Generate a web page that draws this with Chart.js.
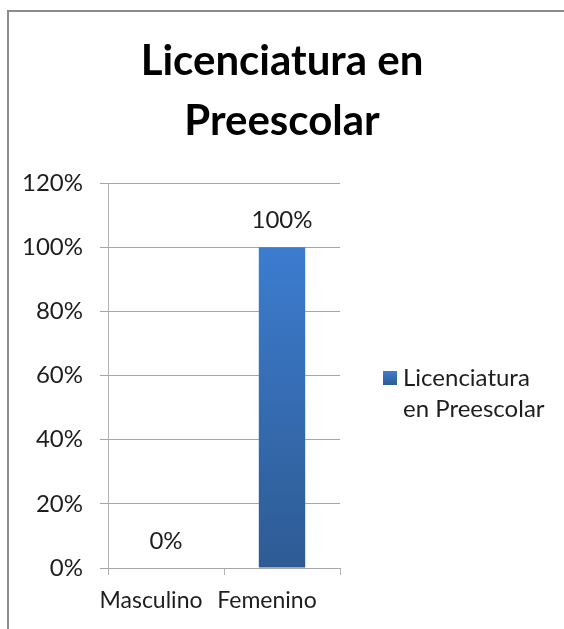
<!DOCTYPE html>
<html>
<head>
<meta charset="utf-8">
<script src="https://cdn.jsdelivr.net/npm/chart.js@4/dist/chart.umd.min.js"></script>
<style>
  html, body { margin: 0; padding: 0; background: #fff; overflow: hidden; }
  canvas { display: block; }
</style>
</head>
<body>
<canvas id="c" width="564" height="629"></canvas>
<script>
const titleLines = ['Licenciatura en', 'Preescolar'];
const categories = ['Masculino', 'Femenino'];
const seriesName = 'Licenciatura en Preescolar';
const legendLines = ['Licenciatura', 'en Preescolar'];
const values = [0, 100];
const yTicks = [0, 20, 40, 60, 80, 100, 120];

const FONT = 'Lato, "Noto Sans", sans-serif';
const TXT = '#1e1e1e';

function barGradient(ctx) {
  const chart = ctx.chart;
  if (!chart.chartArea) return '#3a78c8';
  const y = chart.scales.y;
  const g = chart.ctx.createLinearGradient(0, y.getPixelForValue(100), 0, y.getPixelForValue(0));
  g.addColorStop(0, '#3c7ccf');
  g.addColorStop(1, '#2e5b93');
  return g;
}

const frame = {
  id: 'frame',
  beforeDraw(chart) {
    const c = chart.ctx;
    c.save();
    c.fillStyle = '#ffffff';
    c.fillRect(0, 0, chart.width, chart.height);
    c.strokeStyle = '#8c8c8c';
    c.lineWidth = 2;
    c.beginPath();
    c.moveTo(8, chart.height + 2);
    c.lineTo(8, 11);
    c.lineTo(chart.width + 2, 11);
    c.stroke();
    c.restore();
  }
};

const dataLabels = {
  id: 'dataLabels',
  afterDatasetsDraw(chart) {
    const c = chart.ctx;
    const meta = chart.getDatasetMeta(0);
    c.save();
    c.font = '24px ' + FONT;
    c.fillStyle = TXT;
    c.textAlign = 'center';
    c.textBaseline = 'middle';
    meta.data.forEach((bar, i) => {
      c.fillText(values[i] + '%', bar.x, bar.y - 27);
    });
    c.restore();
  }
};

const sideLegend = {
  id: 'sideLegend',
  afterDraw(chart) {
    const c = chart.ctx;
    c.save();
    const g = c.createLinearGradient(0, 371, 0, 385);
    g.addColorStop(0, '#3c7ccf');
    g.addColorStop(1, '#2e5b93');
    c.fillStyle = g;
    c.fillRect(383, 371, 14, 14);
    c.font = '24px ' + FONT;
    c.fillStyle = TXT;
    c.textAlign = 'left';
    c.textBaseline = 'middle';
    legendLines.forEach((t, i) => c.fillText(t, 403, 378 + i * 31));
    c.restore();
  }
};

new Chart(document.getElementById('c'), {
  type: 'bar',
  data: {
    labels: categories,
    datasets: [{
      label: seriesName,
      data: values,
      backgroundColor: barGradient,
      borderWidth: 0,
      barPercentage: 1,
      categoryPercentage: 0.4
    }]
  },
  options: {
    responsive: false,
    animation: false,
    devicePixelRatio: 1,
    layout: { padding: 0 },
    plugins: {
      legend: { display: false },
      tooltip: { enabled: false },
      title: {
        display: true,
        text: titleLines,
        color: '#000',
        font: { family: FONT, size: 42, weight: 'bold', lineHeight: 1.43 },
        padding: { top: 31, bottom: 32 }
      }
    },
    scales: {
      x: {
        grid: { display: true, drawOnChartArea: false, drawTicks: true, tickLength: 7, color: '#b0b0b0', offset: true },
        border: { display: true, color: '#a6a6a6' },
        ticks: { color: TXT, font: { family: FONT, size: 23 }, padding: 12, labelOffset: -15 },
        afterFit(s) { s.height = 61; }
      },
      y: {
        min: 0, max: 120,
        afterBuildTicks(s) { s.ticks = yTicks.map(v => ({ value: v })); },
        grid: { color: '#a6a6a6', tickLength: 8 },
        border: { display: true, color: '#b0b0b0' },
        ticks: { color: TXT, font: { family: FONT, size: 24 }, padding: 17, callback: v => v + '%' },
        afterFit(s) { s.width = 108; }
      },
      legendSpace: {
        type: 'linear',
        position: 'right',
        display: true,
        grid: { display: false, drawTicks: false },
        border: { display: false },
        ticks: { display: false },
        afterFit(s) { s.width = 224; }
      }
    }
  },
  plugins: [frame, dataLabels, sideLegend]
});
</script>
</body>
</html>
